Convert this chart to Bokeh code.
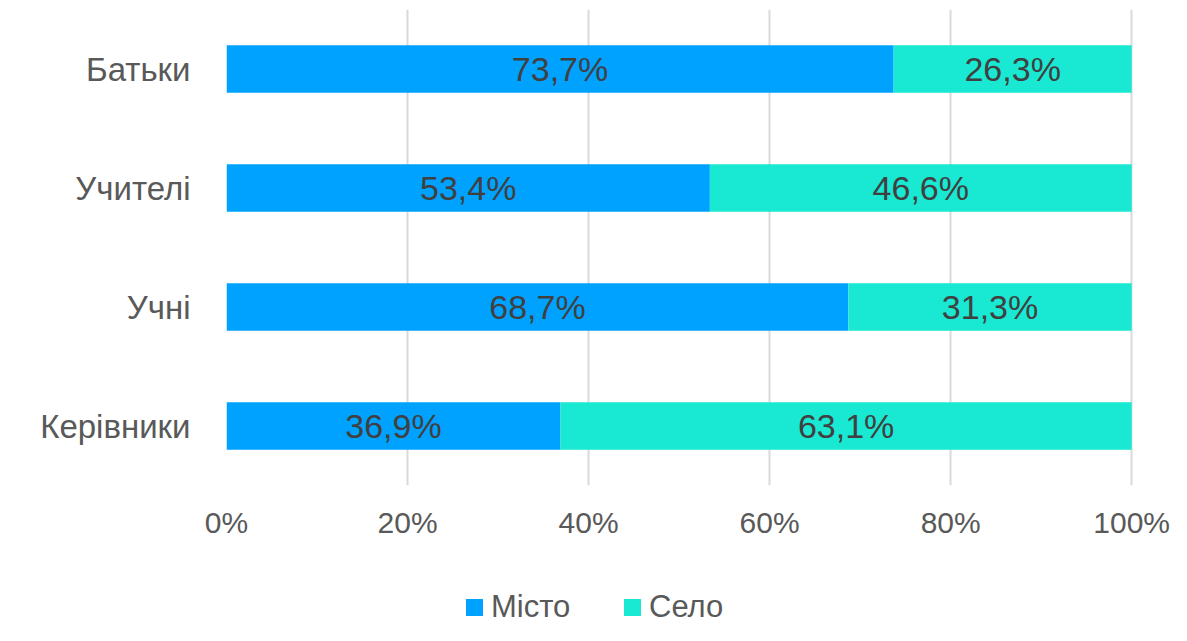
from bokeh.plotting import figure
from bokeh.models import (ColumnDataSource, FactorRange, Range1d, FixedTicker,
                          PrintfTickFormatter, Div)
from bokeh.layouts import column
from bokeh.core.properties import value
from bokeh.embed import file_html
from bokeh.resources import INLINE

# ---- data ----
categories = ["Батьки", "Учителі", "Учні", "Керівники"]
misto = [73.7, 53.4, 68.7, 36.9]
selo = [26.3, 46.6, 31.3, 63.1]
series_names = ["Місто", "Село"]
x_ticks = [0, 20, 40, 60, 80, 100]

FONT = "Liberation Sans"
C_MISTO = "#00A2FF"
C_SELO = "#19E8D2"
series_colors = [C_MISTO, C_SELO]

def fmt(v):
    return f"{v:.1f}%".replace(".", ",")

src = ColumnDataSource(dict(
    cat=categories,
    misto=misto,
    selo=selo,
    zero=[0] * len(categories),
    total=[m + s for m, s in zip(misto, selo)],
    m_mid=[m / 2 for m in misto],
    s_mid=[m + s / 2 for m, s in zip(misto, selo)],
    m_lab=[fmt(v) for v in misto],
    s_lab=[fmt(v) for v in selo],
))

FIG_H = 588
p = figure(width=1171, height=FIG_H, output_backend="svg", toolbar_location=None,
           y_range=FactorRange(*categories[::-1], range_padding=0),
           x_range=Range1d(0, 100.2))
p.min_border_left = 226
p.min_border_right = 38
p.min_border_top = 9
p.min_border_bottom = FIG_H - 485
p.outline_line_color = None
p.background_fill_color = "white"
p.border_fill_color = "white"

p.hbar(y="cat", left="zero", right="misto", height=0.40, source=src,
       fill_color=C_MISTO, line_color=None)
p.hbar(y="cat", left="misto", right="total", height=0.40, source=src,
       fill_color=C_SELO, line_color=None)

p.text(x="m_mid", y="cat", text="m_lab", source=src, text_align="center",
       text_baseline="middle", text_font=value(FONT), text_font_size="34px",
       text_color="#404040")
p.text(x="s_mid", y="cat", text="s_lab", source=src, text_align="center",
       text_baseline="middle", text_font=value(FONT), text_font_size="34px",
       text_color="#404040")

# grid
p.ygrid.grid_line_color = None
p.xgrid.grid_line_color = "#D9D9D9"
p.xgrid.grid_line_width = 2
p.xaxis.ticker = FixedTicker(ticks=x_ticks)
p.xgrid.ticker = FixedTicker(ticks=x_ticks)
p.xaxis.formatter = PrintfTickFormatter(format="%d%%")

for ax in (p.xaxis, p.yaxis):
    ax.axis_line_color = None
    ax.major_tick_line_color = None
    ax.minor_tick_line_color = None
    ax.major_label_text_font = FONT
    ax.major_label_text_color = "#595959"
p.xaxis.major_label_text_font_size = "30px"
p.xaxis.major_label_standoff = 14
p.yaxis.major_label_text_font_size = "33px"
p.yaxis.major_label_standoff = 30

# legend (HTML, below the figure)
sq = ("position:absolute;top:11px;left:{l}px;width:17px;height:17px;"
      "background:{c};")
tx = ("position:absolute;top:0px;left:{l}px;line-height:37px;"
      "font-family:'Liberation Sans';font-size:31px;color:#595959;")
html = ('<div style="position:relative;width:1171px;height:37px;">'
        + f'<span style="{sq.format(l=466, c=series_colors[0])}"></span>'
        + f'<span style="{tx.format(l=491)}">{series_names[0]}</span>'
        + f'<span style="{sq.format(l=624, c=series_colors[1])}"></span>'
        + f'<span style="{tx.format(l=649)}">{series_names[1]}</span>'
        + '</div>')
legend_div = Div(text=html, width=1171, height=37, margin=0)

layout = column(p, legend_div, spacing=0)
open("out.html", "w").write(file_html(layout, INLINE))
